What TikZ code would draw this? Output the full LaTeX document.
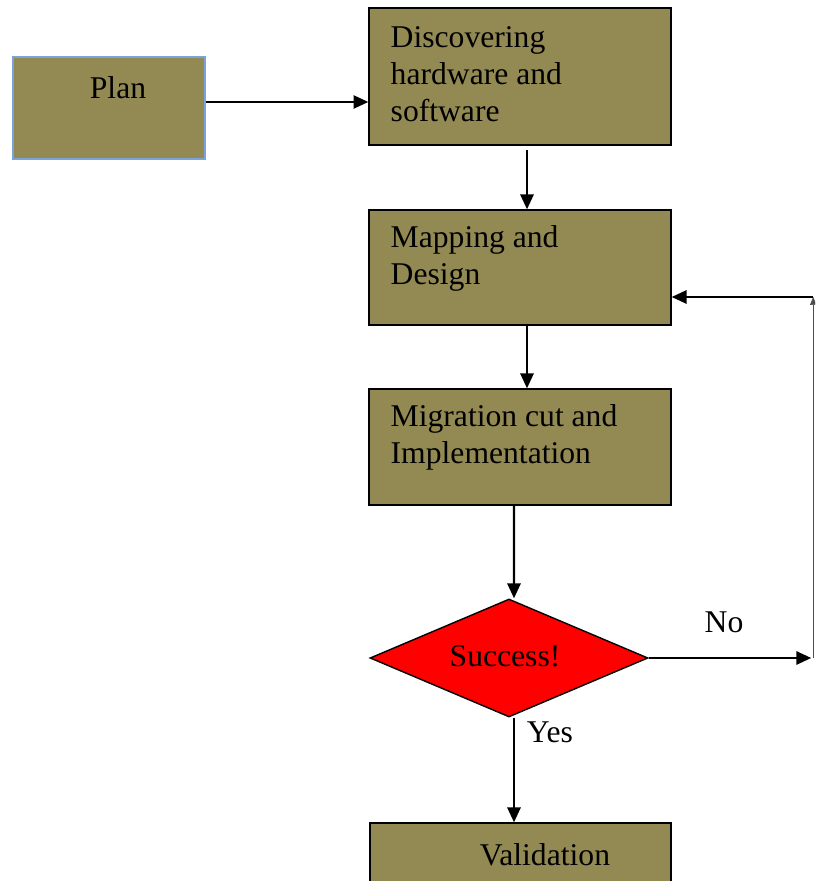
\documentclass[tikz,border=0pt]{standalone}
\usepackage{fontspec}
\setmainfont{Liberation Serif}
\usetikzlibrary{arrows.meta, positioning, shapes.geometric}
\definecolor{colive}{HTML}{938953}
\definecolor{cplanedge}{HTML}{7BA3D9}
\definecolor{cred}{HTML}{FF0000}
\tikzset{
  every picture/.style={font=\fontsize{22.5}{26.3}\selectfont, line width=1pt},
  box/.style={draw=#1, fill=colive, line width=1pt, minimum width=7.55cm, inner sep=0pt},
  box/.default=black,
  arrow/.style={-{Triangle[length=3.7mm, width=3.3mm]}, draw=black, line width=1.5pt},
  txt/.style={align=left, inner sep=0pt, anchor=west},
}

\begin{document}
\begin{tikzpicture}[
  p/.style={box=cplanedge, minimum width=4.8cm, minimum height=2.55cm},
  d/.style={diamond, draw=black, fill=cred, line width=1pt, minimum width=6.95cm, minimum height=2.95cm, aspect=2.36, inner sep=0pt}]
  \clip (0,0) rectangle (20.375,22.025);
  % ---- boxes ----
  \node[p] (plan) at (2.725,19.325) {};
  \node (plant) at (2.95,19.825) {Plan};
  \node[box, minimum height=3.425cm] (disc) at (13.0,20.1125) {};
  \node[txt] (disct) at (9.75,20.175) {Discovering\\hardware and\\software};
  \node[box, minimum height=2.875cm] (map) at (13.0,15.3375) {};
  \node[txt] (mapt) at (9.75,15.575) {Mapping and\\Design};
  \node[box, minimum height=2.9cm] (mig) at (13.0,10.85) {};
  \node[txt] (migt) at (9.75,11.1) {Migration cut and\\Implementation};
  \node[d] (succ) at (12.725,5.575) {};
  \node (succt) at (12.625,5.625) {Success!};
  \node[box, minimum height=3cm, minimum width=7.525cm] (val) at (13.0125,-0.05) {};
  \node (valt) at (13.625,0.65) {Validation};
  % ---- connectors ----
  \coordinate (cdn) at (20.33,5.575);
  \coordinate (cup) at (20.33,14.6);
  \draw[arrow] ([yshift=0.15cm]plan.east) -- ([yshift=0.15cm]plan.east -| disc.west);
  \draw[arrow] ([xshift=0.175cm]disc.south) ++(0,-0.12) -- ([xshift=0.175cm]map.north);
  \draw[arrow] ([xshift=0.175cm]map.south) -- ([xshift=0.175cm]mig.north);
  \draw[arrow] ([xshift=-0.15cm]mig.south) -- ([xshift=0.125cm]succ.north);
  \draw[arrow] (succ.east) -- ([xshift=-0.05cm]cdn);
  \draw[-{Triangle[length=2mm, width=1.6mm]}, line width=0.5pt, draw=black!70] (cdn) -- (cup);
  \draw[arrow] (cup) -- (cup -| map.east);
  \draw[arrow] ([xshift=0.125cm]succ.south) -- ([xshift=0.125cm]succ.south |- val.north);
  \node (no) at (18.1,6.475) {No};
  \node (yes) at (13.75,3.725) {Yes};
\end{tikzpicture}
\end{document}
